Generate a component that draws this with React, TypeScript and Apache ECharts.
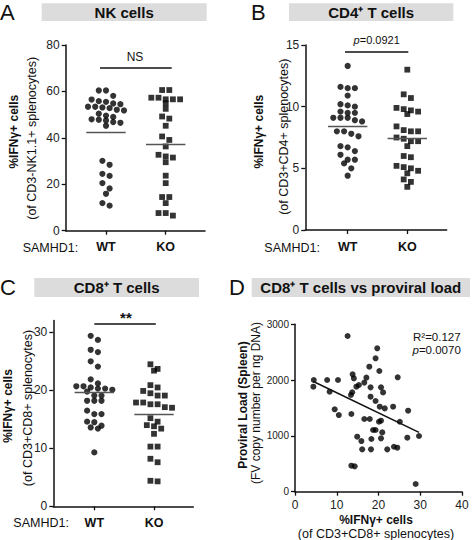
import React, { useEffect, useRef } from 'react';
import * as echarts from 'echarts';

// ---------- data ----------
const groups = ['WT', 'KO'];

// A: NK cells, %IFNγ+ (of CD3-NK1.1+ splenocytes)
const nkWT = [60.4, 60.4, 58.1, 56.5, 55.8, 55.5, 54.8, 54.5, 53.4, 53.4, 53.1, 52.8, 52.1, 51.8, 50.4, 49.6, 49.0, 48.0, 47.8, 47.5, 46.8, 46.5, 45.2, 30.1, 28.4, 24.5, 23.6, 20.5, 18.2, 15.9, 11.9, 10.8];
const nkKO = [60.6, 60.6, 57.3, 57.3, 56.6, 56.6, 56.6, 54.9, 52.5, 49.2, 48.3, 45.2, 40.6, 39.1, 36.3, 32.7, 32.0, 31.5, 29.5, 23.7, 20.5, 14.5, 14.5, 11.9, 7.6, 7.6, 6.5];
const nkMeans = [42.3, 37.1];

// B: CD4+ T cells
const cd4WT = [13.3, 11.6, 11.5, 11.5, 10.9, 10.2, 10.1, 10.0, 9.6, 9.5, 9.5, 9.1, 9.1, 9.1, 8.9, 8.8, 8.0, 8.0, 7.8, 7.6, 6.8, 6.7, 6.4, 6.1, 5.7, 5.7, 5.4, 5.0, 4.4];
const cd4KO = [13.0, 11.0, 10.7, 9.9, 9.8, 9.7, 9.6, 9.4, 8.4, 8.1, 8.0, 8.0, 7.5, 7.4, 7.2, 7.2, 6.8, 6.0, 5.9, 5.2, 5.1, 5.0, 4.8, 4.6, 4.1, 3.9, 3.5];
const cd4Means = [8.45, 7.4];

// C: CD8+ T cells
const cd8WT = [29.4, 28.7, 27.0, 26.6, 25.0, 24.1, 21.9, 21.2, 20.7, 20.7, 20.5, 20.3, 20.3, 20.1, 19.8, 19.1, 19.1, 18.2, 18.2, 18.2, 16.5, 15.9, 15.9, 14.6, 14.5, 13.9, 13.6, 13.4, 9.3];
const cd8KO = [24.5, 23.7, 23.4, 20.9, 20.5, 19.9, 19.5, 19.1, 19.1, 17.9, 17.9, 17.6, 17.6, 17.1, 17.0, 15.2, 14.6, 14.0, 13.8, 13.4, 12.5, 10.3, 10.3, 8.2, 7.6, 4.4, 4.3];
const cd8Means = [19.6, 15.8];

// D: CD8+ %IFNγ+ vs proviral load
const corrIFNg = [12.6, 19.7, 19.3, 17.8, 24.6, 20.2, 4.5, 4.4, 7.7, 10.3, 8.3, 13.8, 14.1, 17.1, 15.3, 14.7, 16.6, 13.7, 13.4, 18.1, 20.6, 21.1, 18.1, 19.3, 20.3, 21.5, 23.5, 27.1, 9.5, 10.5, 13.5, 16.6, 17.9, 20.1, 20.6, 25.1, 18.7, 19.3, 20.9, 14.9, 15.9, 18.3, 20.6, 26.9, 29.7, 16.1, 18.2, 22.1, 23.7, 24.5, 13.5, 14.3, 28.9];
const corrLoad = [2790, 2570, 2390, 2240, 2050, 2163, 2002, 1882, 2002, 2002, 1792, 2104, 2032, 2044, 1912, 1882, 1955, 1782, 1733, 1870, 1870, 1780, 1703, 1625, 1523, 1493, 1523, 1452, 1476, 1374, 1392, 1303, 1303, 1254, 1272, 1254, 1106, 1106, 1063, 986, 908, 944, 956, 968, 998, 759, 759, 759, 806, 789, 466, 454, 138];
const fitSlope = -36;
const fitIntercept = 2133;
const corrStats = ['R²=0.127', 'p=0.0070'];

const yTicksA = [0, 20, 40, 60, 80];
const yTicksB = [0, 5, 10, 15];
const yTicksC = [0, 10, 20, 30];
const xTicksD = [0, 10, 20, 30, 40];
const yTicksD = [0, 1000, 2000, 3000];

const FONT = '"Liberation Sans", Arial, Helvetica, sans-serif';
const INK = '#000';

// beeswarm layout: rows of near-equal values spread symmetrically around the group centre
function swarm(values: number[], center: number, pxPerY: number, pxPerX: number) {
  const dot = 5.4;
  const step = 7.2;
  const idx = values.map((_, i) => i).sort((a, b) => values[b] - values[a]);
  const out: number[][] = [];
  let row: number[] = [];
  const flush = () => {
    const n = row.length;
    row.forEach((i, k) => out.push([center + ((k - (n - 1) / 2) * step) / pxPerX, values[i]]));
    row = [];
  };
  for (const i of idx) {
    if (row.length && ((values[row[0]] - values[i]) * pxPerY > dot || row.length >= 6)) flush();
    row.push(i);
  }
  flush();
  return out;
}

type DotPanel = {
  wt: number[]; ko: number[]; means: number[]; yMax: number; yTicks: number[];
  grid: { left: number; top: number; width: number; height: number };
  xMin: number; xMax: number;
  sig: { from: number; to: number; y: number; lx: number; dy: number; text: string; size: number; bold: boolean };
};

const dotPanels: DotPanel[] = [
  {
    wt: nkWT, ko: nkKO, means: nkMeans, yMax: 80, yTicks: yTicksA,
    grid: { left: 65.7, top: 45, width: 139.3, height: 185.7 }, xMin: 0.325, xMax: 2.658,
    sig: { from: 0.9, to: 2.1, y: 70, lx: 1.486, dy: -10.8, text: 'NS', size: 12, bold: false },
  },
  {
    wt: cd4WT, ko: cd4KO, means: cd4Means, yMax: 15, yTicks: yTicksB,
    grid: { left: 305.3, top: 45, width: 141.4, height: 185 }, xMin: 0.289, xMax: 2.661,
    sig: { from: 0.955, to: 2.017, y: 14.46, lx: 1.487, dy: -11.5, text: '{i|p}=0.0921', size: 11, bold: false },
  },
  {
    wt: cd8WT, ko: cd8KO, means: cd8Means, yMax: 32.05, yTicks: yTicksC,
    grid: { left: 53.3, top: 320.5, width: 140, height: 185.8 }, xMin: 0.313, xMax: 2.658,
    sig: { from: 1.0, to: 2.03, y: 31.55, lx: 1.53, dy: -5.5, text: '**', size: 15, bold: true },
  },
];

const gridD = { left: 295, top: 324.3, width: 167, height: 167.4 };

export default function App() {
  const ref = useRef<HTMLDivElement>(null);
  useEffect(() => {
    if (!ref.current) return;
    const chart = echarts.init(ref.current, undefined, { renderer: 'svg' });

    const grids: any[] = [];
    const xAxes: any[] = [];
    const yAxes: any[] = [];
    const series: any[] = [];

    const axisLine = { show: true, lineStyle: { color: '#111', width: 1.5 } };
    const tick = { show: true, length: 4, lineStyle: { color: '#111', width: 1.3 } };
    const plain = (v: number) => String(v);

    dotPanels.forEach((p, gi) => {
      grids.push({ ...p.grid, containLabel: false });
      xAxes.push({
        type: 'value', gridIndex: gi, min: p.xMin, max: p.xMax,
        axisLine, splitLine: { show: false },
        axisTick: { ...tick, customValues: [1, 2] },
        axisLabel: {
          customValues: [1, 2], margin: 10, color: '#111', fontFamily: FONT, fontSize: 12.5, fontWeight: 'bold',
          formatter: (v: number) => groups[Math.round(v) - 1] ?? '',
        },
      });
      yAxes.push({
        type: 'value', gridIndex: gi, min: 0, max: p.yMax,
        axisLine, splitLine: { show: false },
        axisTick: { ...tick, customValues: p.yTicks },
        axisLabel: { customValues: p.yTicks, margin: 6, color: '#222', fontFamily: FONT, fontSize: 12, formatter: plain },
      });
      const pxY = p.grid.height / p.yMax;
      const pxX = p.grid.width / (p.xMax - p.xMin);
      [p.wt, p.ko].forEach((vals, k) => {
        const c = k + 1;
        const lines: any[] = [
          [{ coord: [c - 0.33, p.means[k]], lineStyle: { color: '#555', width: 1.3, type: 'solid' } }, { coord: [c + 0.33, p.means[k]] }],
        ];
        if (k === 0) {
          lines.push([{ coord: [p.sig.from, p.sig.y], lineStyle: { color: '#111', width: 1.6, type: 'solid' } }, { coord: [p.sig.to, p.sig.y] }]);
        }
        series.push({
          type: 'scatter', xAxisIndex: gi, yAxisIndex: gi, clip: false,
          symbol: k === 0 ? 'circle' : 'rect', symbolSize: k === 0 ? 6.2 : 5.8,
          itemStyle: { color: INK },
          data: swarm(vals, c, pxY, pxX),
          markLine: { silent: true, symbol: ['none', 'none'], label: { show: false }, data: lines },
          markPoint: k === 0 ? {
            silent: true, symbol: 'circle', symbolSize: 1, itemStyle: { color: 'rgba(0,0,0,0)' },
            label: {
              show: true, position: 'inside', offset: [0, p.sig.dy], formatter: p.sig.text, color: '#111',
              fontFamily: FONT, fontSize: p.sig.size, fontWeight: p.sig.bold ? 'bold' : 'normal',
              rich: { i: { fontStyle: 'italic', fontFamily: FONT, fontSize: p.sig.size, color: '#111' } },
            },
            data: [{ coord: [p.sig.lx, p.sig.y] }],
          } : undefined,
        });
      });
    });

    // Panel D
    grids.push({ ...gridD, containLabel: false });
    xAxes.push({
      type: 'value', gridIndex: 3, min: 0, max: 40, interval: 10,
      axisLine, splitLine: { show: false }, axisTick: { ...tick, customValues: xTicksD },
      axisLabel: { margin: 7, color: '#222', fontFamily: FONT, fontSize: 12, customValues: xTicksD, formatter: plain },
    });
    yAxes.push({
      type: 'value', gridIndex: 3, min: 0, max: 3000, interval: 1000,
      axisLine, splitLine: { show: false }, axisTick: { ...tick, customValues: yTicksD },
      axisLabel: { margin: 6, color: '#222', fontFamily: FONT, fontSize: 10, customValues: yTicksD, formatter: plain },
    });
    const xLo = Math.min(...corrIFNg);
    const xHi = Math.max(...corrIFNg);
    series.push({
      type: 'scatter', xAxisIndex: 3, yAxisIndex: 3, clip: false,
      symbol: 'circle', symbolSize: 6, itemStyle: { color: INK },
      data: corrIFNg.map((x, i) => [x, corrLoad[i]]),
      markLine: {
        silent: true, symbol: ['none', 'none'], label: { show: false },
        lineStyle: { color: '#111', width: 1.5, type: 'solid' },
        data: [[{ coord: [xLo, fitIntercept + fitSlope * xLo] }, { coord: [xHi, fitIntercept + fitSlope * xHi] }]],
      },
    });

    const txt = (x: number, y: number, text: string, size: number, weight: string, align = 'center', rot = 0, extra: any = {}) => ({
      type: 'text', x, y, rotation: rot, silent: true,
      style: { text, fontFamily: FONT, fontSize: size, fontWeight: weight, fill: '#111', align, verticalAlign: 'middle', ...extra },
    });
    const bar = (x: number, y: number, w: number, h: number) => ({
      type: 'rect', silent: true, shape: { x, y, width: w, height: h }, style: { fill: '#dcdcdc' },
    });
    const R = Math.PI / 2;

    const graphic: any[] = [
      bar(41.7, 3.3, 165, 17.8), bar(289, 3.3, 164.3, 17.8), bar(34.3, 278, 164.7, 19), bar(251.7, 278, 218.3, 19),
      txt(124.2, 12.4, 'NK cells', 15, 'bold'),
      txt(371.2, 12.4, 'CD4⁺ T cells', 15, 'bold'),
      txt(116.7, 287.5, 'CD8⁺ T cells', 15, 'bold'),
      txt(360.8, 287.5, 'CD8⁺ T cells vs proviral load', 15, 'bold'),
      txt(0, 12.8, 'A', 22, 'normal', 'left'),
      txt(251, 12.8, 'B', 22, 'normal', 'left'),
      txt(0, 287.5, 'C', 22, 'normal', 'left'),
      txt(229, 287.5, 'D', 22, 'normal', 'left'),
      // y titles
      txt(14, 131.7, '%IFNγ+ cells', 12, 'bold', 'center', R),
      txt(32.3, 138.3, '(of CD3-NK1.1+ splenocytes)', 12.5, 'normal', 'center', R),
      txt(258.7, 131.7, '%IFNγ+ cells', 12, 'bold', 'center', R),
      txt(283.7, 136.7, '(of CD3+CD4+ splenocytes)', 12.5, 'normal', 'center', R),
      txt(7.5, 406, '%IFNγ+ cells', 12, 'bold', 'center', R),
      txt(27.5, 408, '(of CD3+CD8+ splenocytes)', 12.5, 'normal', 'center', R),
      txt(243, 405, 'Proviral Load (Spleen)', 12, 'bold', 'center', R),
      txt(256, 403, '(FV copy number per ng DNA)', 12, 'normal', 'center', R),
      // x titles
      txt(22.7, 248.2, 'SAMHD1:', 12.5, 'normal', 'left'),
      txt(264.3, 248.2, 'SAMHD1:', 12.5, 'normal', 'left'),
      txt(13.3, 523.3, 'SAMHD1:', 12.5, 'normal', 'left'),
      txt(376, 519.5, '%IFNγ+ cells', 12, 'bold'),
      txt(376, 533.5, '(of CD3+CD8+ splenocytes)', 12.5, 'normal'),
      // correlation stats
      txt(413, 336.7, corrStats[0], 11.5, 'normal', 'left'),
      {
        type: 'text', x: 412.5, y: 350.3, silent: true,
        style: {
          text: '{i|p}' + corrStats[1].slice(1), fontFamily: FONT, fontSize: 11.5, fill: '#111', align: 'left', verticalAlign: 'middle',
          rich: { i: { fontStyle: 'italic', fontFamily: FONT, fontSize: 11.5, fill: '#111' } },
        },
      },
    ];

    chart.setOption({
      animation: false,
      backgroundColor: '#fff',
      grid: grids,
      xAxis: xAxes,
      yAxis: yAxes,
      series,
      graphic,
    });
    return () => chart.dispose();
  }, []);

  return <div ref={ref} style={{ position: 'fixed', left: 0, top: 0, width: 474, height: 540 }} />;
}
